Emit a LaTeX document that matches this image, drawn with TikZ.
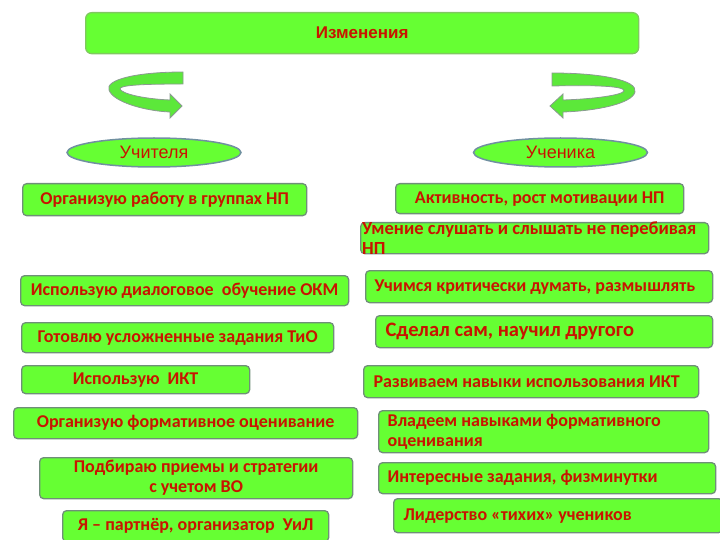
\documentclass[tikz,border=0pt]{standalone}
\usepackage{fontspec}
\setmainfont{Carlito}
\newfontfamily\arialf{Liberation Sans}
\usetikzlibrary{shapes.geometric}
\definecolor{boxgreen}{HTML}{66FF33}
\definecolor{boxborder}{HTML}{6F8F78}
\definecolor{topborder}{HTML}{80C860}
\definecolor{ellborder}{HTML}{7090A0}
\definecolor{txtred}{HTML}{C81400}
\definecolor{arrowgreen}{HTML}{5CE83A}
\definecolor{arrowborder}{HTML}{8A9A90}
\tikzset{
  gbox/.style={draw=boxborder, fill=boxgreen, rounded corners=4pt, line width=1.3pt,
    text=txtred, font=\fontsize{18}{20}\selectfont\bfseries, inner sep=0pt, anchor=north west, align=center},
  lbox/.style={gbox, align=flush left},
  ellnode/.style={ellipse, draw=ellborder, fill=boxgreen, line width=1.5pt, text=txtred,
    font=\arialf\fontsize{18}{20}\selectfont, minimum width=174pt, minimum height=29pt, inner sep=0pt},
  curarrow/.style={fill=arrowgreen, draw=arrowborder, line width=0.8pt}
}
\begin{document}
\begin{tikzpicture}[x=1pt,y=-1pt]
\useasboundingbox (0,0) rectangle (720,540);
\clip (0,0) rectangle (720,540);
% top
\node[gbox, draw=topborder, rounded corners=6pt, minimum width=553pt, minimum height=41pt,
  font=\arialf\bfseries\fontsize{17}{20}\selectfont] (top) at (85,12) {Изменения};
% curved arrows
\path[curarrow] (183,72) .. controls (135,72) and (105,80) .. (109,90)
  .. controls (113,102) and (145,111) .. (170,112) -- (170,118) -- (182,106) -- (170,94) -- (170,100)
  .. controls (145,99) and (122,94) .. (120,89) .. controls (119,85) and (145,84) .. (183,84) -- cycle;
\path[curarrow] (552,73) .. controls (600,73) and (638,80) .. (635,92)
  .. controls (632,104) and (595,111) .. (563,112) -- (563,118) -- (550,106) -- (563,94) -- (563,100)
  .. controls (595,99) and (622,95) .. (624,91) .. controls (625,86) and (595,85) .. (552,86) -- cycle;
% ellipses
\node[ellnode] (uch) at (154,152.5) {Учителя};
\node[ellnode] (uchen) at (560.5,152.5) {Ученика};
% left column
\node[gbox, minimum width=284pt, minimum height=32pt] (l1) at (22,183) {Организую работу в группах НП};
\node[gbox, minimum width=328pt, minimum height=30pt] (l2) at (20,275) {Использую диалоговое\ \ обучение ОКМ};
\node[gbox, minimum width=312pt, minimum height=30pt] (l3) at (21,322) {Готовлю усложненные задания ТиО};
\node[gbox, minimum width=228pt, minimum height=28pt] (l4) at (21,365) {Использую\ \ ИКТ};
\node[gbox, minimum width=344pt, minimum height=31pt] (l5) at (13,407) {Организую формативное оценивание};
\node[gbox, minimum width=313pt, minimum height=41pt] (l6) at (39,457) {Подбираю приемы и стратегии\\с учетом ВО};
\node[gbox, minimum width=266pt, minimum height=31pt] (l7) at (62,510) {Я – партнёр, организатор\ \ УиЛ};
% right column
\node[gbox, minimum width=288pt, minimum height=30pt] (r1) at (395,183) {Активность, рост мотивации НП};
\node[gbox, minimum width=348pt, minimum height=31pt] (r2) at (360,222) {};
\node[text=txtred, font=\fontsize{18.5}{19.5}\selectfont\bfseries, align=flush left, inner sep=0pt, anchor=north west]
  (r2t) at (362,222) {Умение слушать и слышать не перебивая\\НП};
\node[lbox, minimum height=32pt, inner xsep=9pt, text width=329pt] (r3) at (365,270) {Учимся критически думать, размышлять};
\node[lbox, minimum height=32pt, inner xsep=10pt, text width=317pt, font=\fontsize{20.5}{22}\selectfont\bfseries] (r4) at (375,315) {Сделал сам, научил другого};
\node[lbox, minimum height=32pt, inner xsep=10pt, text width=315pt] (r5) at (363,365) {Развиваем навыки использования ИКТ};
\node[lbox, minimum height=42pt, inner xsep=9pt, text width=312pt] (r6) at (378,410) {Владеем навыками формативного\\оценивания};
\node[lbox, minimum height=31pt, inner xsep=9pt, text width=319pt] (r7) at (378,462) {Интересные задания, физминутки};
\node[lbox, minimum height=34pt, inner xsep=10pt, text width=309pt] (r8) at (393,498) {Лидерство «тихих» учеников};
\end{tikzpicture}
\end{document}
